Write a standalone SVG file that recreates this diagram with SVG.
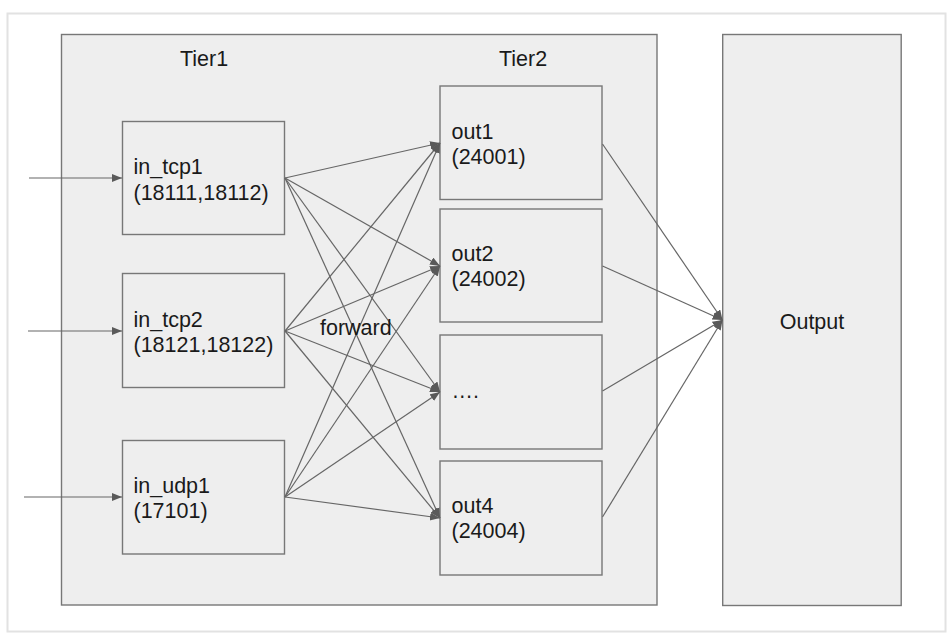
<svg xmlns="http://www.w3.org/2000/svg" width="952" height="636" viewBox="0 0 952 636">
<defs>
<style>
.box{fill:#eeeeee;stroke:#777777;stroke-width:1.4}
.t{font-family:"Liberation Sans",Arial,sans-serif;font-size:21.5px;fill:#1a1a1a}
.e{fill:none;stroke:#666666;stroke-width:1.2;marker-end:url(#ah)}
</style>
<marker id="ah" markerUnits="userSpaceOnUse" markerWidth="11" markerHeight="9" refX="10" refY="4" orient="auto">
<path d="M0,0 L10,4 L0,8 z" fill="#5a5a5a"/>
</marker>
</defs>
<rect x="0" y="0" width="952" height="636" fill="#ffffff"/>
<rect x="7.5" y="13.5" width="938" height="618" fill="#ffffff" stroke="#e2e2e2" stroke-width="2"/>
<g id="tier">
<rect class="box" x="61.5" y="34.5" width="595.5" height="570.5"/>
<text class="t" x="180" y="66">Tier1</text>
<text class="t" x="499" y="66">Tier2</text>
</g>
<g id="output">
<rect class="box" x="722.7" y="34.5" width="178.5" height="571"/>
<text class="t" x="812" y="329" text-anchor="middle">Output</text>
</g>
<g id="in_tcp1">
<rect class="box" x="122.5" y="121.5" width="162" height="113"/>
<text class="t" x="133.5" y="174">in_tcp1</text>
<text class="t" x="133.5" y="200">(18111,18112)</text>
</g>
<g id="in_tcp2">
<rect class="box" x="122.5" y="273.5" width="162" height="114"/>
<text class="t" x="133.5" y="326.5">in_tcp2</text>
<text class="t" x="133.5" y="351.5">(18121,18122)</text>
</g>
<g id="in_udp1">
<rect class="box" x="122.5" y="440.5" width="162" height="113.5"/>
<text class="t" x="133.5" y="493">in_udp1</text>
<text class="t" x="133.5" y="518">(17101)</text>
</g>
<g id="out1">
<rect class="box" x="440" y="86" width="162" height="113.5"/>
<text class="t" x="451.5" y="139">out1</text>
<text class="t" x="451.5" y="163.5">(24001)</text>
</g>
<g id="out2">
<rect class="box" x="440" y="209" width="162" height="113"/>
<text class="t" x="451.5" y="261">out2</text>
<text class="t" x="451.5" y="286">(24002)</text>
</g>
<g id="out3">
<rect class="box" x="440" y="335" width="162" height="114"/>
<text class="t" x="451.5" y="398">….</text>
</g>
<g id="out4">
<rect class="box" x="440" y="461" width="162" height="114"/>
<text class="t" x="451.5" y="513">out4</text>
<text class="t" x="451.5" y="538">(24004)</text>
</g>
<g id="connectors">
<line class="e" x1="29" y1="178" x2="122" y2="178"/>
<line class="e" x1="28" y1="331" x2="122" y2="331"/>
<line class="e" x1="24" y1="497" x2="122" y2="497"/>
<line class="e" x1="285" y1="178" x2="440" y2="143"/>
<line class="e" x1="285" y1="178" x2="440" y2="266"/>
<line class="e" x1="285" y1="178" x2="440" y2="392"/>
<line class="e" x1="285" y1="178" x2="440" y2="518"/>
<line class="e" x1="285" y1="331" x2="440" y2="143"/>
<line class="e" x1="285" y1="331" x2="440" y2="266"/>
<line class="e" x1="285" y1="331" x2="440" y2="392"/>
<line class="e" x1="285" y1="331" x2="440" y2="518"/>
<line class="e" x1="285" y1="497" x2="440" y2="143"/>
<line class="e" x1="285" y1="497" x2="440" y2="266"/>
<line class="e" x1="285" y1="497" x2="440" y2="392"/>
<line class="e" x1="285" y1="497" x2="440" y2="518"/>
<line class="e" x1="602.5" y1="144" x2="722.5" y2="320"/>
<line class="e" x1="602.5" y1="266" x2="722.5" y2="320"/>
<line class="e" x1="602.5" y1="391" x2="722.5" y2="320"/>
<line class="e" x1="602.5" y1="517" x2="722.5" y2="320"/>
</g>
<text class="t" x="320" y="335">forward</text>
</svg>
